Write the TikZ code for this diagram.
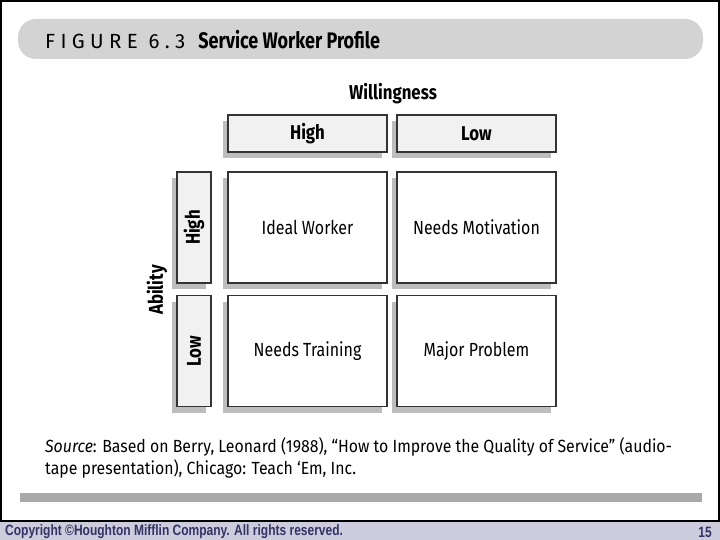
\documentclass[tikz,border=0pt]{standalone}
\usepackage{fontspec}
\setmainfont{Fira Sans}
\newfontfamily\diagfont[FakeStretch=0.84]{Fira Sans}
\newfontfamily\titolofont[LetterSpace=26]{Fira Sans}
\newfontfamily\titoloboldfont[FakeStretch=0.8]{Fira Sans}
\newfontfamily\fontefonte[FakeStretch=0.9]{Fira Sans}
\newfontfamily\piedefont[FakeStretch=0.8]{Liberation Sans}
\usetikzlibrary{shadows, positioning}

\definecolor{grigiotitolo}{HTML}{D3D3D3}
\definecolor{grigiochiaro}{HTML}{F1F1F1}
\definecolor{ombra}{HTML}{BDBDBD}
\definecolor{grigiobarra}{HTML}{A9A9A9}
\definecolor{lavanda}{HTML}{CCCCDC}
\definecolor{blunotte}{HTML}{333366}

\begin{document}
\begin{tikzpicture}[x=1pt, y=-1pt,
    cella/.style={draw=black!80, line width=1.2pt, fill=white, inner sep=0pt,
        minimum width=159pt, minimum height=111pt,
        font=\diagfont\fontsize{19}{22}\selectfont,
        drop shadow={shadow xshift=-5pt, shadow yshift=-6pt, fill=ombra, opacity=1}},
    testata/.style={cella, fill=grigiochiaro, font=\diagfont\bfseries\fontsize{20}{23}\selectfont},
    asse/.style={font=\diagfont\bfseries\fontsize{20}{23}\selectfont, inner sep=0pt}]
    % ==========================================
    % PARAMETRI GEOMETRICI
    % ==========================================
    \def\xA{307.5}  % centro colonna "High"
    \def\xB{476.5}  % centro colonna "Low"
    \def\yA{227.5}  % centro riga "High"
    \def\yB{351}    % centro riga "Low"

    \useasboundingbox (0,0) rectangle (720,540);

    % ==========================================
    % CORNICE, TITOLO E PIE' DI PAGINA
    % ==========================================
    \fill[grigiotitolo, rounded corners=18pt] (18,19) rectangle (703,59);
    \node[anchor=west, inner sep=0pt] (titolo) at (45,40)
        {{\titolofont\fontsize{20.5}{22}\selectfont FIGURE 6.3}\hspace{13pt}{\titoloboldfont\bfseries\fontsize{22.5}{24}\selectfont Service Worker Profile}};

    \fill[grigiobarra] (20,493) rectangle (702,502);
    \draw[line width=2pt] (1,1) rectangle (719,521);
    \fill[lavanda] (0,522) rectangle (720,540);
    \node[anchor=west, inner sep=0pt, text=blunotte, font=\piedefont\bfseries\fontsize{15}{17}\selectfont] (copyright) at (5,532)
        {Copyright ©Houghton Mifflin Company. All rights reserved.};
    \node[anchor=east, inner sep=0pt, text=blunotte, font=\piedefont\bfseries\fontsize{15}{17}\selectfont] (pagina) at (712,532) {15};

    % ==========================================
    % INTESTAZIONI DEGLI ASSI
    % ==========================================
    \node[asse] (volonta) at (393,94) {Willingness};
    \node[testata, minimum height=37pt] (colAlta) at (\xA,133.5) {High};
    \node[testata, minimum height=37pt] (colBassa) at (\xB,133.5) {Low};

    \node[asse, rotate=90] (abilita) at (157,290) {Ability};
    \node[testata, minimum width=34pt] (rigaAlta) at (194,\yA) {\rotatebox{90}{High}};
    \node[testata, minimum width=34pt] (rigaBassa) at (194,\yB) {\rotatebox{90}{Low}};

    % ==========================================
    % CELLE DELLA MATRICE
    % ==========================================
    \node[cella] (ideale) at (\xA,\yA) {Ideal Worker};
    \node[cella] (motivazione) at (\xB,\yA) {Needs Motivation};
    \node[cella] (formazione) at (\xA,\yB) {Needs Training};
    \node[cella] (problema) at (\xB,\yB) {Major Problem};

    % ==========================================
    % FONTE
    % ==========================================
    \node[anchor=north west, align=left, inner sep=0pt, font=\fontefonte\fontsize{17.6}{22}\selectfont] (fonte) at (45,437)
        {\textit{Source}: Based on Berry, Leonard (1988), “How to Improve the Quality of Service” (audio-\\tape presentation), Chicago: Teach ‘Em, Inc.};

\end{tikzpicture}
\end{document}
